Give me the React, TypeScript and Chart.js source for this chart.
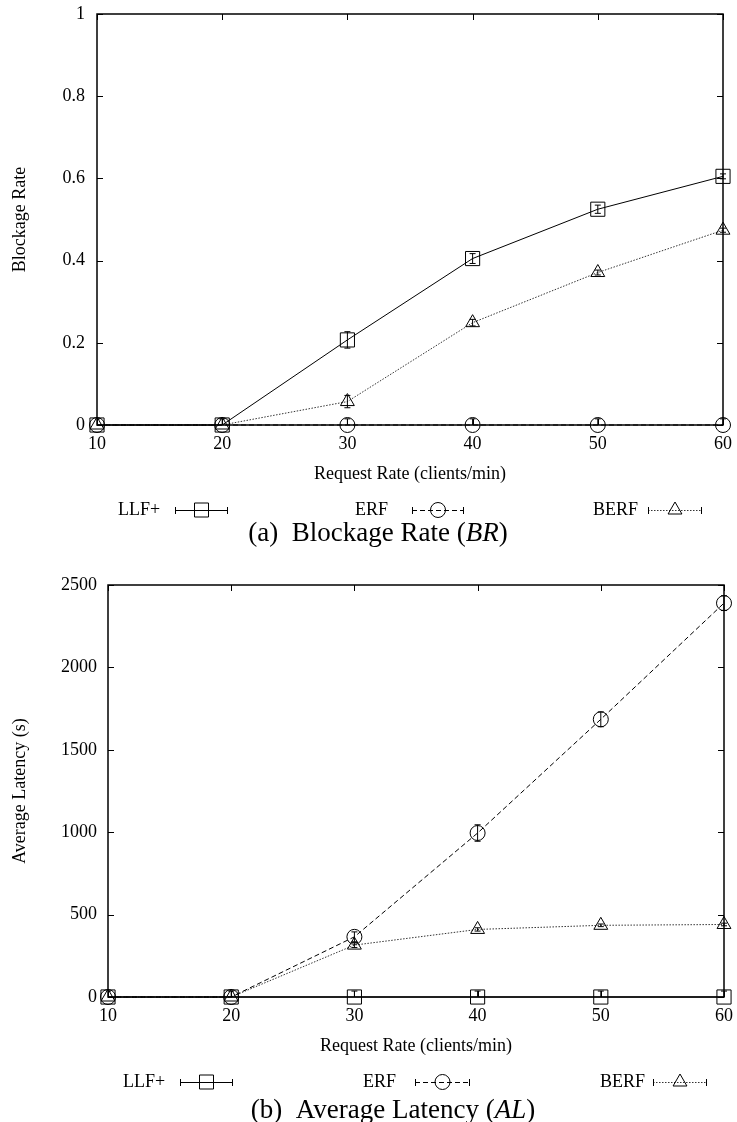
import React, { useEffect, useRef } from 'react';
import { Chart, registerables } from 'chart.js';

Chart.register(...registerables);

// ---------- data ----------
const X_VALUES = [10, 20, 30, 40, 50, 60];
const SERIES_NAMES = ['LLF+', 'ERF', 'BERF'];

// (a) Blockage Rate
const BR_LLF = [0, 0, 0.207, 0.405, 0.525, 0.605];
const BR_ERF = [0, 0, 0, 0, 0, 0];
const BR_BERF = [0, 0, 0.057, 0.249, 0.371, 0.474];
const BR_LLF_ERR = [0, 0, 0.02, 0.012, 0.01, 0.006];
const BR_ERF_ERR = [0.015, 0.015, 0.015, 0.015, 0.015, 0.015];
const BR_BERF_ERR = [0, 0, 0.015, 0.008, 0.006, 0.005];
const BR_Y_TICKS = [0, 0.2, 0.4, 0.6, 0.8, 1];

// (b) Average Latency
const AL_LLF = [0, 0, 0, 0, 0, 0];
const AL_ERF = [0, 0, 365, 995, 1685, 2390];
const AL_BERF = [0, 0, 315, 410, 435, 440];
const AL_LLF_ERR = [36, 36, 36, 36, 36, 36];
const AL_ERF_ERR = [0, 0, 30, 50, 45, 45];
const AL_BERF_ERR = [0, 0, 15, 10, 8, 8];
const AL_Y_TICKS = [0, 500, 1000, 1500, 2000, 2500];

const FONT = 'Liberation Serif, Times New Roman, serif';

type Marker = 'rect' | 'circle' | 'triangle';
const MARKERS: Marker[] = ['rect', 'circle', 'triangle'];
const DASHES = [[], [5, 3], [1.5, 1.5]];
const LINE_COLORS = ['#000', '#000', '#333'];
const RADII = [10, 7.5, 8];

function drawMarker(ctx: CanvasRenderingContext2D, m: Marker, x: number, y: number) {
  ctx.save();
  ctx.setLineDash([]);
  ctx.strokeStyle = '#000';
  ctx.lineWidth = 1;
  ctx.beginPath();
  if (m === 'rect') {
    ctx.rect(x - 7, y - 7, 14, 14);
  } else if (m === 'circle') {
    ctx.arc(x, y, 7.5, 0, Math.PI * 2);
  } else {
    const r = 8;
    ctx.moveTo(x, y - r);
    ctx.lineTo(x + r * Math.sin(Math.PI / 3), y + r / 2);
    ctx.lineTo(x - r * Math.sin(Math.PI / 3), y + r / 2);
    ctx.closePath();
  }
  ctx.stroke();
  ctx.restore();
}

const gnuPlugin = {
  id: 'gnu',
  afterDatasetsDraw(chart: any, _args: any, opts: any) {
    const ctx: CanvasRenderingContext2D = chart.ctx;
    const ca = chart.chartArea;
    const xs = chart.scales.x;
    const ys = chart.scales.y;
    // error bars
    ctx.save();
    ctx.beginPath();
    ctx.rect(ca.left, ca.top - 30, ca.right - ca.left + 30, ca.bottom - ca.top + 30);
    ctx.clip();
    ctx.strokeStyle = '#000';
    ctx.lineWidth = 1;
    (opts.errors || []).forEach((errs: number[], di: number) => {
      const ds = chart.data.datasets[di];
      ds.data.forEach((p: any, i: number) => {
        const e = errs[i];
        if (!e) return;
        const px = xs.getPixelForValue(p.x);
        const y1 = Math.min(ys.getPixelForValue(p.y - e), ca.bottom);
        const y2 = ys.getPixelForValue(p.y + e);
        ctx.beginPath();
        ctx.moveTo(px, y1);
        ctx.lineTo(px, y2);
        ctx.moveTo(px - 3, y2);
        ctx.lineTo(px + 3, y2);
        if (y1 < ca.bottom) {
          ctx.moveTo(px - 3, y1);
          ctx.lineTo(px + 3, y1);
        }
        ctx.stroke();
      });
    });
    ctx.restore();

    // frame + inward ticks
    ctx.save();
    ctx.strokeStyle = '#000';
    ctx.lineWidth = 1.5;
    ctx.strokeRect(ca.left, ca.top, ca.right - ca.left, ca.bottom - ca.top);
    ctx.lineWidth = 1;
    ctx.beginPath();
    xs.ticks.forEach((t: any) => {
      const px = Math.round(xs.getPixelForValue(t.value)) + 0.5;
      ctx.moveTo(px, ca.bottom);
      ctx.lineTo(px, ca.bottom - 6);
      ctx.moveTo(px, ca.top);
      ctx.lineTo(px, ca.top + 6);
    });
    ys.ticks.forEach((t: any) => {
      const py = Math.round(ys.getPixelForValue(t.value)) + 0.5;
      ctx.moveTo(ca.left, py);
      ctx.lineTo(ca.left + 6, py);
      ctx.moveTo(ca.right, py);
      ctx.lineTo(ca.right - 6, py);
    });
    ctx.stroke();
    ctx.restore();
  },
  afterDraw(chart: any, _args: any, opts: any) {
    const ctx: CanvasRenderingContext2D = chart.ctx;
    // legend
    ctx.save();
    ctx.font = `18px ${FONT}`;
    ctx.fillStyle = '#000';
    ctx.textBaseline = 'middle';
    const ly = opts.legendY;
    (opts.legend || []).forEach((it: any, i: number) => {
      ctx.textAlign = 'left';
      ctx.fillText(SERIES_NAMES[i], it.textX, ly);
      ctx.save();
      ctx.strokeStyle = LINE_COLORS[i];
      ctx.lineWidth = 1;
      ctx.setLineDash(DASHES[i]);
      ctx.beginPath();
      ctx.moveTo(it.x1, ly + 0.5);
      ctx.lineTo(it.x2, ly + 0.5);
      ctx.stroke();
      ctx.setLineDash([]);
      ctx.strokeStyle = '#000';
      ctx.beginPath();
      ctx.moveTo(it.x1 + 0.5, ly - 3);
      ctx.lineTo(it.x1 + 0.5, ly + 4);
      ctx.moveTo(it.x2 - 0.5, ly - 3);
      ctx.lineTo(it.x2 - 0.5, ly + 4);
      ctx.stroke();
      ctx.restore();
      drawMarker(ctx, MARKERS[i], (it.x1 + it.x2) / 2, ly);
    });
    // caption
    const cap = opts.caption;
    if (cap) {
      const normalFont = `${cap.size}px ${FONT}`;
      const italicFont = `italic ${cap.size}px ${FONT}`;
      const parts = [
        { t: cap.pre, f: normalFont },
        { t: cap.ital, f: italicFont },
        { t: ')', f: normalFont },
      ];
      let total = 0;
      parts.forEach((p) => {
        ctx.font = p.f;
        total += ctx.measureText(p.t).width;
      });
      let x = cap.cx - total / 2;
      ctx.textBaseline = 'alphabetic';
      ctx.textAlign = 'left';
      parts.forEach((p) => {
        ctx.font = p.f;
        ctx.fillText(p.t, x, cap.y);
        x += ctx.measureText(p.t).width;
      });
    }
    ctx.restore();
  },
};

function buildConfig(p: {
  series: number[][];
  errors: number[][];
  yTicks: number[];
  yTitle: string;
  left: number;
  top: number;
  right: number;
  bottomPad: number;
  yLabelPad: number;
  legendY: number;
  legend: any[];
  caption: any;
}): any {
  const font = { family: FONT, size: 18 };
  return {
    type: 'line',
    data: {
      datasets: p.series.map((vals, i) => ({
        label: SERIES_NAMES[i],
        data: X_VALUES.map((x, j) => ({ x, y: vals[j] })),
        borderColor: LINE_COLORS[i],
        borderWidth: 1,
        borderDash: DASHES[i],
        pointStyle: MARKERS[i],
        pointRadius: RADII[i],
        pointBorderColor: '#000',
        pointBackgroundColor: 'rgba(0,0,0,0)',
        pointBorderWidth: 1,
        tension: 0,
        fill: false,
        clip: false,
      })),
    },
    options: {
      responsive: false,
      animation: false,
      events: [],
      layout: { padding: { left: 0, top: p.top, right: p.right, bottom: p.bottomPad } },
      plugins: {
        legend: { display: false },
        tooltip: { enabled: false },
        gnu: { errors: p.errors, legendY: p.legendY, legend: p.legend, caption: p.caption },
      },
      scales: {
        x: {
          type: 'linear',
          min: X_VALUES[0],
          max: X_VALUES[X_VALUES.length - 1],
          afterBuildTicks: (s: any) => {
            s.ticks = X_VALUES.map((v) => ({ value: v }));
          },
          ticks: { padding: 8, font, color: '#000', maxRotation: 0, autoSkip: false },
          grid: { display: false, drawTicks: false },
          border: { display: false },
          title: {
            display: true,
            text: 'Request Rate (clients/min)',
            font,
            color: '#000',
            padding: { top: 0, bottom: 0 },
          },
          afterFit: (s: any) => {
            s.height = 60;
            s.paddingLeft = 0;
            s.paddingRight = 0;
          },
        },
        y: {
          type: 'linear',
          min: p.yTicks[0],
          max: p.yTicks[p.yTicks.length - 1],
          afterBuildTicks: (s: any) => {
            s.ticks = p.yTicks.map((v) => ({ value: v }));
          },
          ticks: {
            padding: p.yLabelPad,
            font,
            color: '#000',
            autoSkip: false,
            callback: (v: any) => String(Number(Number(v).toFixed(2))),
          },
          grid: { display: false, drawTicks: false },
          border: { display: false },
          title: {
            display: true,
            text: p.yTitle,
            font,
            color: '#000',
            padding: { top: 9, bottom: 0 },
          },
          afterFit: (s: any) => {
            s.width = p.left;
            s.paddingTop = 0;
            s.paddingBottom = 0;
          },
        },
      },
    },
    plugins: [gnuPlugin],
  };
}

function ChartCanvas({ config, width, height, top }: { config: any; width: number; height: number; top: number }) {
  const ref = useRef<HTMLCanvasElement | null>(null);
  useEffect(() => {
    if (!ref.current) return;
    const chart = new Chart(ref.current, config);
    return () => chart.destroy();
  }, []);
  return (
    <canvas
      ref={ref}
      width={width}
      height={height}
      style={{ position: 'absolute', left: 0, top, width, height, display: 'block' }}
    />
  );
}

export default function App() {
  const topCfg = buildConfig({
    series: [BR_LLF, BR_ERF, BR_BERF],
    errors: [BR_LLF_ERR, BR_ERF_ERR, BR_BERF_ERR],
    yTicks: BR_Y_TICKS,
    yTitle: 'Blockage Rate',
    left: 97,
    top: 14,
    right: 14,
    bottomPad: 75,
    yLabelPad: 12,
    legendY: 510,
    legend: [
      { textX: 118, x1: 175, x2: 228 },
      { textX: 355, x1: 412, x2: 464 },
      { textX: 593, x1: 648, x2: 702 },
    ],
    caption: { pre: '(a)  Blockage Rate (', ital: 'BR', size: 27, cx: 378, y: 541 },
  });
  const botCfg = buildConfig({
    series: [AL_LLF, AL_ERF, AL_BERF],
    errors: [AL_LLF_ERR, AL_ERF_ERR, AL_BERF_ERR],
    yTicks: AL_Y_TICKS,
    yTitle: 'Average Latency (s)',
    left: 108,
    top: 25,
    right: 13,
    bottomPad: 65,
    yLabelPad: 11,
    legendY: 522,
    legend: [
      { textX: 123, x1: 180, x2: 233 },
      { textX: 363, x1: 415, x2: 470 },
      { textX: 600, x1: 653, x2: 707 },
    ],
    caption: { pre: '(b)  Average Latency (', ital: 'AL', size: 27, cx: 393, y: 558 },
  });
  return (
    <div style={{ position: 'absolute', left: 0, top: 0, width: 737, height: 1122, background: '#fff' }}>
      <ChartCanvas config={topCfg} width={737} height={560} top={0} />
      <ChartCanvas config={botCfg} width={737} height={562} top={560} />
    </div>
  );
}
